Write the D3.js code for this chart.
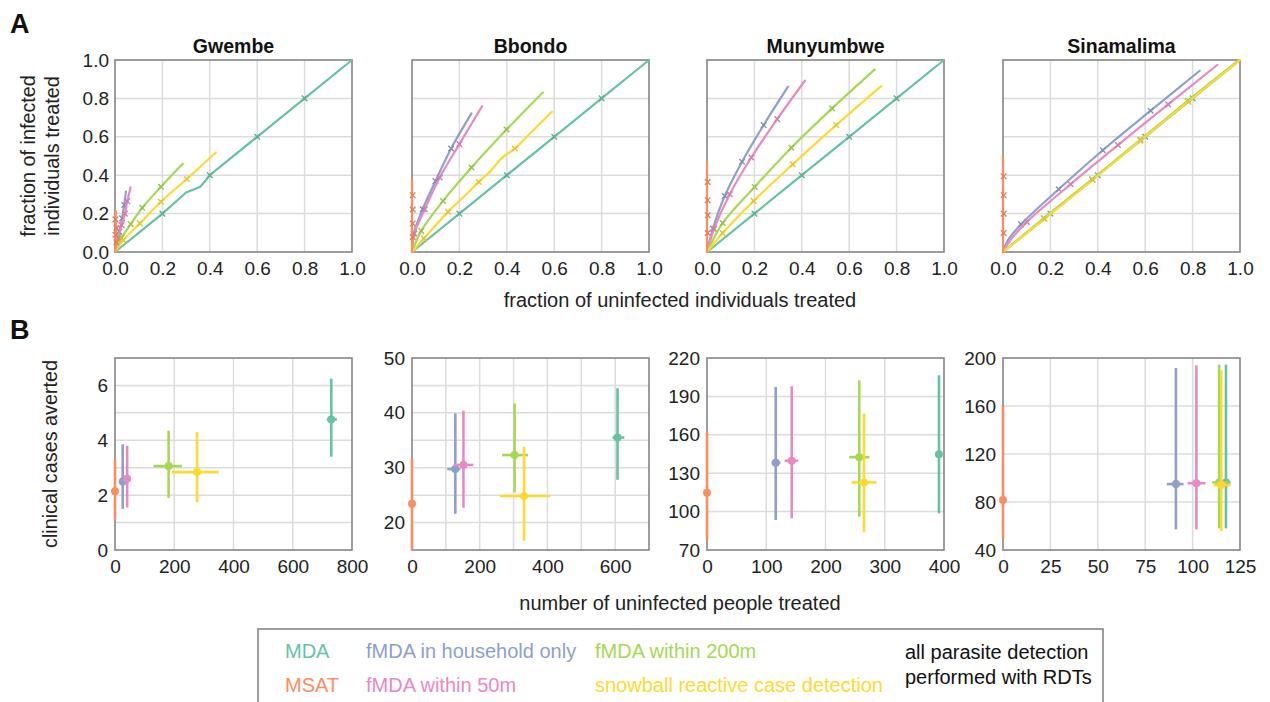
<!DOCTYPE html>
<html><head><meta charset="utf-8">
<script src="https://cdn.jsdelivr.net/npm/d3@7"></script>
<style>body{margin:0;background:#fff;} svg{font-family:"Liberation Sans",Arial,sans-serif;}</style>
</head><body><svg id="c" width="1270" height="702"></svg>
<script>
// ---------------- data ----------------
const villages = ["Gwembe", "Bbondo", "Munyumbwe", "Sinamalima"];
const methods = ["MDA", "MSAT", "fMDA in household only", "fMDA within 50m", "fMDA within 200m", "snowball reactive case detection"];
const methodColors = ["#66c2a5", "#fc8d62", "#8da0cb", "#e78ac3", "#a6d854", "#ffd92f"];

const aTicks = [0, 0.2, 0.4, 0.6, 0.8, 1.0];

// Panel A curves (fraction uninfected treated, fraction infected treated), order = methods
const curvesGwembe = [
  [[0,0],[0.1,0.1],[0.2,0.2],[0.3,0.31],[0.36,0.34],[0.4,0.4],[0.6,0.6],[0.8,0.8],[1,1]],
  [[0,0],[0.006,0.05],[0.002,0.09],[0.006,0.125],[0.002,0.17],[0.004,0.21]],
  [[0,0.01],[0.012,0.08],[0.018,0.106],[0.03,0.175],[0.039,0.245],[0.046,0.315]],
  [[0,0],[0.012,0.07],[0.028,0.14],[0.042,0.2],[0.052,0.265],[0.066,0.337]],
  [[0,0],[0.028,0.075],[0.066,0.145],[0.115,0.23],[0.194,0.34],[0.286,0.46]],
  [[0,0],[0.035,0.062],[0.105,0.149],[0.194,0.262],[0.303,0.38],[0.425,0.518]]
];
const marksGwembe = [
  [[0.2,0.2],[0.4,0.4],[0.6,0.6],[0.8,0.8]],
  [[0.006,0.05],[0.002,0.09],[0.006,0.125],[0.002,0.17]],
  [[0.012,0.08],[0.018,0.106],[0.03,0.175],[0.039,0.245]],
  [[0.012,0.07],[0.028,0.14],[0.042,0.2],[0.052,0.265]],
  [[0.028,0.075],[0.066,0.145],[0.115,0.23],[0.194,0.34]],
  [[0.035,0.062],[0.105,0.149],[0.194,0.262],[0.303,0.38]]
];
const curvesBbondo = [
  [[0,0],[0.2,0.2],[0.4,0.4],[0.6,0.6],[0.8,0.8],[1,1]],
  [[0,0],[0,0.374]],
  [[0,0],[0.007,0.096],[0.045,0.223],[0.099,0.369],[0.165,0.539],[0.251,0.722]],
  [[0,0],[0.01,0.096],[0.054,0.223],[0.117,0.388],[0.2,0.562],[0.296,0.76]],
  [[0,0],[0.039,0.11],[0.131,0.266],[0.251,0.44],[0.399,0.638],[0.552,0.831]],
  [[0,0],[0.05,0.07],[0.152,0.209],[0.22,0.29],[0.282,0.365],[0.33,0.42],[0.38,0.49],[0.434,0.539],[0.5,0.62],[0.59,0.73]]
];
const marksBbondo = [
  [[0.2,0.2],[0.4,0.4],[0.6,0.6],[0.8,0.8]],
  [[0.003,0.078],[0.003,0.148],[0.003,0.221],[0.003,0.296]],
  [[0.007,0.096],[0.045,0.223],[0.099,0.369],[0.165,0.539]],
  [[0.01,0.096],[0.054,0.223],[0.117,0.388],[0.2,0.562]],
  [[0.039,0.11],[0.131,0.266],[0.251,0.44],[0.399,0.638]],
  [[0.05,0.07],[0.152,0.209],[0.282,0.365],[0.434,0.539]]
];
const curvesMunyumbwe = [
  [[0,0],[0.2,0.2],[0.4,0.4],[0.6,0.6],[0.8,0.8],[1,1]],
  [[0,0],[0,0.47]],
  [[0,0],[0.025,0.122],[0.075,0.292],[0.148,0.47],[0.239,0.661],[0.342,0.861]],
  [[0,0],[0.03,0.12],[0.096,0.301],[0.187,0.492],[0.296,0.692],[0.413,0.892]],
  [[0,0],[0.066,0.151],[0.201,0.339],[0.356,0.543],[0.528,0.748],[0.708,0.951]],
  [[0,0],[0.066,0.099],[0.197,0.266],[0.362,0.457],[0.545,0.661],[0.735,0.864]]
];
const marksMunyumbwe = [
  [[0.2,0.2],[0.4,0.4],[0.6,0.6],[0.8,0.8]],
  [[0.003,0.099],[0.003,0.191],[0.003,0.27],[0.003,0.365]],
  [[0.025,0.122],[0.075,0.292],[0.148,0.47],[0.239,0.661]],
  [[0.03,0.12],[0.096,0.301],[0.187,0.492],[0.296,0.692]],
  [[0.066,0.151],[0.201,0.339],[0.356,0.543],[0.528,0.748]],
  [[0.066,0.099],[0.197,0.266],[0.362,0.457],[0.545,0.661]]
];
const curvesSinamalima = [
  [[0,0],[0.2,0.2],[0.4,0.4],[0.6,0.6],[0.8,0.8],[1,1]],
  [[0,0],[0,0.496]],
  [[0,0],[0.02,0.06],[0.076,0.144],[0.235,0.327],[0.421,0.53],[0.623,0.736],[0.83,0.944]],
  [[0,0],[0.03,0.06],[0.101,0.157],[0.285,0.353],[0.485,0.557],[0.697,0.769],[0.904,0.974]],
  [[0,0],[0.172,0.176],[0.376,0.379],[0.58,0.585],[0.78,0.788],[0.995,1]],
  [[0,0],[0.175,0.172],[0.378,0.375],[0.58,0.58],[0.782,0.783],[1,1]]
];
const marksSinamalima = [
  [[0.2,0.2],[0.4,0.4],[0.6,0.6],[0.8,0.8]],
  [[0.003,0.099],[0.003,0.2],[0.003,0.296],[0.003,0.395]],
  [[0.076,0.144],[0.235,0.327],[0.421,0.53],[0.623,0.736]],
  [[0.101,0.157],[0.285,0.353],[0.485,0.557],[0.697,0.769]],
  [[0.172,0.176],[0.376,0.379],[0.58,0.585],[0.78,0.788]],
  [[0.175,0.172],[0.378,0.375],[0.58,0.58],[0.782,0.783]]
];
const curvesA = [curvesGwembe, curvesBbondo, curvesMunyumbwe, curvesSinamalima];
const marksA = [marksGwembe, marksBbondo, marksMunyumbwe, marksSinamalima];

// Panel B: number of uninfected treated (x) vs clinical cases averted (y), order = methods
const bX    = [[730, 0, 26, 41, 181, 277], [607, 0, 128, 152, 303, 331], [391.5, 0, 116, 143, 257, 265], [117.6, 0, 91.2, 102, 114, 115.1]];
const bXLo  = [[715, 0, 18, 34, 130, 192], [592, 0, 104, 123, 266, 260], [386, 0, 109, 131, 240, 244], [115.8, 0, 86.4, 97.4, 110.3, 111.2]];
const bXHi  = [[749, 0, 34, 49, 226, 350], [627, 0, 143, 181, 343, 408], [397, 0, 124, 154, 274, 286], [120, 0, 95.2, 106.8, 119.2, 120]];
const bY    = [[4.76, 2.14, 2.5, 2.6, 3.06, 2.84], [35.5, 23.45, 29.76, 30.5, 32.3, 24.85], [144.9, 114.7, 138.1, 139.7, 142.5, 122.8], [96.3, 81.6, 94.9, 95.7, 96.3, 94.1]];
const bYLo  = [[3.4, 1.1, 1.5, 1.55, 1.9, 1.75], [27.8, 15, 21.6, 22.7, 25.5, 16.7], [98.6, 77.8, 93.4, 94.7, 96, 83.8], [58, 49.7, 57.2, 57.2, 58, 55.8]];
const bYHi  = [[6.25, 3.3, 3.85, 3.8, 4.35, 4.3], [44.5, 31.7, 39.9, 40.4, 41.7, 33.8], [206.5, 162.8, 197.4, 197.9, 202.6, 176.6], [194.5, 160.6, 191.7, 193.9, 194.5, 189.8]];

const bXDomains = [[0, 800], [0, 700], [0, 400], [0, 125]];
const bYDomains = [[0, 7], [15, 50], [70, 220], [40, 200]];
const bXTicks = [[0, 200, 400, 600, 800], [0, 200, 400, 600], [0, 100, 200, 300, 400], [0, 25, 50, 75, 100, 125]];
const bYTicks = [[0, 2, 4, 6], [20, 30, 40, 50], [70, 100, 130, 160, 190, 220], [40, 80, 120, 160, 200]];
const bXGrid = [[200, 400, 600], [100, 200, 300, 400, 500, 600], [100, 200, 300], [25, 50, 75, 100]];
const bYGrid = [[1, 2, 3, 4, 5, 6], [20, 25, 30, 35, 40, 45], [100, 130, 160, 190], [80, 120, 160]];

const legendNote = ["all parasite detection", "performed with RDTs"];

// ---------------- layout ----------------
const svg = d3.select("#c");
const lefts = [115, 412, 707, 1003];
const pw = 237, ph = 192;
const topA = 60, topB = 358;
const gridCol = "#dcdcdc", frameCol = "#858585";
const drawOrder = [0, 2, 3, 4, 5, 1];
const bOrder = [0, 1, 2, 3, 4, 5];
const symX = d3.symbolTimes || d3.symbolX;

function frameAndGrid(g, x, y, xg, yg) {
  g.selectAll(".gx").data(xg).join("line")
    .attr("x1", d => x(d)).attr("x2", d => x(d)).attr("y1", 0).attr("y2", ph)
    .attr("stroke", gridCol).attr("stroke-width", 1.5);
  g.selectAll(".gy").data(yg).join("line").attr("class", "gy")
    .attr("x1", 0).attr("x2", pw).attr("y1", d => y(d)).attr("y2", d => y(d))
    .attr("stroke", gridCol).attr("stroke-width", 1.5);
  g.append("rect").attr("width", pw).attr("height", ph)
    .attr("fill", "none").attr("stroke", frameCol).attr("stroke-width", 1.6);
}

function styleAxis(ax) {
  ax.select(".domain").remove();
  ax.selectAll(".tick line").remove();
  ax.selectAll("text").attr("fill", "#222").style("font-size", "19px")
    .style("font-family", '"Liberation Sans",Arial,sans-serif');
}

// ---------------- Panel A ----------------
villages.forEach((v, i) => {
  const g = svg.append("g").attr("transform", `translate(${lefts[i]},${topA})`);
  const x = d3.scaleLinear().domain([0, 1]).range([0, pw]);
  const y = d3.scaleLinear().domain([0, 1]).range([ph, 0]);
  frameAndGrid(g, x, y, aTicks.slice(1, -1), aTicks.slice(1, -1));
  const smooth = d3.line().x(d => x(d[0])).y(d => y(d[1])).curve(d3.curveCatmullRom.alpha(0.5));
  const straight = d3.line().x(d => x(d[0])).y(d => y(d[1]));
  drawOrder.forEach(m => {
    const ln = m === 0 ? straight : smooth;
    g.append("path").attr("d", ln(curvesA[i][m])).attr("fill", "none")
      .attr("stroke", methodColors[m]).attr("stroke-width", 2.2).attr("stroke-linecap", "round")
      .attr("stroke-linejoin", "round");
    g.selectAll(null).data(marksA[i][m]).join("path")
      .attr("d", d3.symbol().type(symX).size(22))
      .attr("transform", d => `translate(${x(d[0])},${y(d[1])})`)
      .attr("fill", "none").attr("stroke", d3.color(methodColors[m]).darker(0.3)).attr("stroke-width", 1.4);
  });
  const ax = g.append("g").attr("transform", `translate(0,${ph})`)
    .call(d3.axisBottom(x).tickValues(aTicks).tickFormat(d3.format(".1f")).tickSize(0).tickPadding(10));
  styleAxis(ax);
  if (i === 0) {
    const ay = g.append("g").call(d3.axisLeft(y).tickValues(aTicks).tickFormat(d3.format(".1f")).tickSize(0).tickPadding(6));
    styleAxis(ay);
  }
  g.append("text").attr("x", pw / 2).attr("y", -7).attr("text-anchor", "middle")
    .style("font-weight", "bold").style("font-size", "19.5px").attr("fill", "#111").text(v);
});

// ---------------- Panel B ----------------
villages.forEach((v, i) => {
  const g = svg.append("g").attr("transform", `translate(${lefts[i]},${topB})`);
  const x = d3.scaleLinear().domain(bXDomains[i]).range([0, pw]);
  const y = d3.scaleLinear().domain(bYDomains[i]).range([ph, 0]);
  frameAndGrid(g, x, y, bXGrid[i], bYGrid[i]);
  bOrder.forEach(m => {
    const c = methodColors[m];
    g.append("line").attr("x1", x(bX[i][m])).attr("x2", x(bX[i][m]))
      .attr("y1", y(bYLo[i][m])).attr("y2", y(bYHi[i][m]))
      .attr("stroke", c).attr("stroke-width", 2.6);
    g.append("line").attr("x1", x(bXLo[i][m])).attr("x2", x(bXHi[i][m]))
      .attr("y1", y(bY[i][m])).attr("y2", y(bY[i][m]))
      .attr("stroke", c).attr("stroke-width", 2.6);
    g.append("circle").attr("cx", x(bX[i][m])).attr("cy", y(bY[i][m])).attr("r", 4).attr("fill", c);
  });
  const ax = g.append("g").attr("transform", `translate(0,${ph})`)
    .call(d3.axisBottom(x).tickValues(bXTicks[i]).tickFormat(d3.format("d")).tickSize(0).tickPadding(10));
  styleAxis(ax);
  const ay = g.append("g").call(d3.axisLeft(y).tickValues(bYTicks[i]).tickFormat(d3.format("d")).tickSize(0).tickPadding(7));
  styleAxis(ay);
});

// ---------------- labels ----------------
const lab = (t, x, y, opts = {}) => svg.append("text").attr("x", x).attr("y", y)
  .attr("text-anchor", opts.anchor || "middle").attr("fill", opts.fill || "#222")
  .style("font-size", (opts.size || 19) + "px").style("font-weight", opts.bold ? "bold" : "normal")
  .attr("transform", opts.rot ? `rotate(-90,${x},${y})` : null).text(t);

lab("A", 10, 33, { anchor: "start", size: 27, bold: true, fill: "#111" });
lab("B", 10, 339, { anchor: "start", size: 27, bold: true, fill: "#111" });
lab("fraction of infected", 35, 156, { rot: true, size: 19.8 });
lab("individuals treated", 59, 156, { rot: true, size: 19.8 });
lab("fraction of uninfected individuals treated", 680, 307, { size: 20 });
lab("clinical cases averted", 57, 454, { rot: true, size: 19.8 });
lab("number of uninfected people treated", 680, 610, { size: 20 });

// ---------------- legend ----------------
svg.append("rect").attr("x", 258).attr("y", 629).attr("width", 845).attr("height", 90)
  .attr("fill", "#fff").attr("stroke", frameCol).attr("stroke-width", 1.6);
const legendPos = [[285, 658], [285, 692], [366, 658], [366, 692], [595, 658], [595, 692]];
methods.forEach((m, k) => {
  lab(m, legendPos[k][0], legendPos[k][1], { anchor: "start", size: 20, fill: methodColors[k] });
});
lab(legendNote[0], 905, 659, { anchor: "start", size: 20, fill: "#111" });
lab(legendNote[1], 905, 684, { anchor: "start", size: 20, fill: "#111" });
</script></body></html>
